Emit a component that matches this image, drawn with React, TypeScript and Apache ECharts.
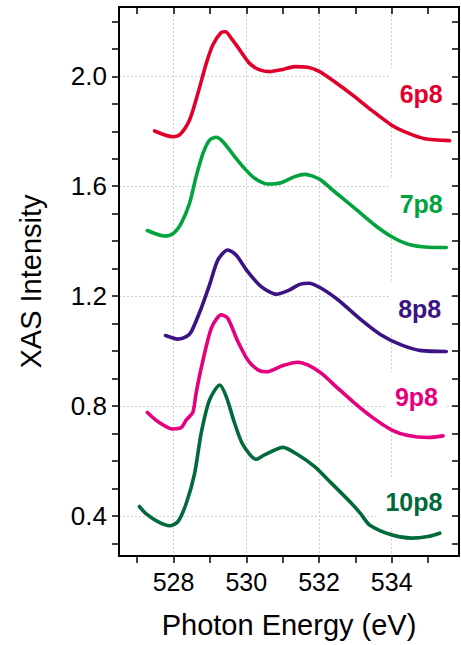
import React, { useEffect, useRef } from 'react';
import * as echarts from 'echarts';

// ---- data ----
const energy6p8 = [527.48, 527.98, 528.17, 528.44, 528.67, 528.90, 529.08, 529.31, 529.43, 529.59, 529.82, 530.09, 530.37, 530.64, 531.01, 531.33, 531.69, 532.02, 532.43, 532.98, 533.44, 533.99, 534.45, 534.91, 535.59];
const xas6p8 = [1.801, 1.780, 1.787, 1.841, 1.938, 2.047, 2.114, 2.159, 2.162, 2.138, 2.096, 2.047, 2.023, 2.017, 2.025, 2.035, 2.033, 2.017, 1.980, 1.926, 1.877, 1.823, 1.793, 1.773, 1.766];

const energy7p8 = [527.28, 527.75, 527.98, 528.21, 528.44, 528.62, 528.81, 528.99, 529.17, 529.36, 529.68, 529.95, 530.23, 530.59, 530.96, 531.33, 531.62, 532.02, 532.43, 532.98, 533.53, 533.99, 534.45, 535.00, 535.50];
const xas7p8 = [1.439, 1.419, 1.427, 1.465, 1.538, 1.635, 1.720, 1.768, 1.778, 1.762, 1.708, 1.665, 1.629, 1.608, 1.613, 1.635, 1.643, 1.625, 1.580, 1.520, 1.459, 1.417, 1.389, 1.378, 1.377];

const energy8p8 = [527.78, 528.12, 528.35, 528.49, 528.76, 528.99, 529.22, 529.49, 529.72, 530.04, 530.41, 530.83, 531.19, 531.47, 531.72, 532.06, 532.52, 533.16, 533.71, 534.26, 534.81, 535.50];
const xas8p8 = [1.057, 1.044, 1.053, 1.071, 1.156, 1.241, 1.332, 1.368, 1.350, 1.289, 1.235, 1.207, 1.223, 1.243, 1.247, 1.229, 1.187, 1.114, 1.059, 1.023, 1.002, 0.999];

const energy9p8 = [527.28, 527.57, 527.98, 528.21, 528.35, 528.53, 528.62, 528.76, 529.04, 529.31, 529.49, 529.77, 530.04, 530.32, 530.55, 531.01, 531.42, 531.69, 532.06, 532.52, 532.98, 533.44, 533.99, 534.45, 535.00, 535.41];
const xas9p8 = [0.777, 0.744, 0.717, 0.722, 0.750, 0.777, 0.847, 0.938, 1.084, 1.132, 1.120, 1.035, 0.968, 0.932, 0.925, 0.948, 0.960, 0.950, 0.920, 0.865, 0.811, 0.762, 0.714, 0.693, 0.686, 0.692];

const energy10p8 = [527.06, 527.25, 527.57, 527.89, 528.12, 528.35, 528.58, 528.76, 528.99, 529.27, 529.45, 529.68, 529.91, 530.27, 530.50, 531.01, 531.42, 531.88, 532.34, 532.89, 533.15, 533.39, 533.99, 534.54, 535.00, 535.32];
const xas10p8 = [0.435, 0.408, 0.380, 0.365, 0.380, 0.447, 0.556, 0.702, 0.823, 0.877, 0.835, 0.738, 0.659, 0.607, 0.623, 0.650, 0.623, 0.580, 0.520, 0.447, 0.408, 0.368, 0.332, 0.320, 0.326, 0.338];

const sampleNames = ['6p8', '7p8', '8p8', '9p8', '10p8'];
const sampleEnergies = [energy6p8, energy7p8, energy8p8, energy9p8, energy10p8];
const sampleXas = [xas6p8, xas7p8, xas8p8, xas9p8, xas10p8];
// label anchors (data coordinates)
const labelEnergy = [534.81, 534.81, 534.77, 534.68, 534.61];
const labelXas = [1.936, 1.536, 1.154, 0.832, 0.450];

const xTickValues = [527, 528, 529, 530, 531, 532, 533, 534, 535];
const xLabelValues = [528, 530, 532, 534];
const yTickValues = [0.3, 0.4, 0.5, 0.6, 0.7, 0.8, 0.9, 1.0, 1.1, 1.2, 1.3, 1.4, 1.5, 1.6, 1.7, 1.8, 1.9, 2.0, 2.1, 2.2];
const yLabelValues = [0.4, 0.8, 1.2, 1.6, 2.0];

const X_MIN = 526.5;
const X_MAX = 535.85;
const Y_MIN = 0.255;
const Y_MAX = 2.252;

const colors = ['#E2002B', '#00A33C', '#3B1383', '#E4007E', '#006A3A'];
const FONT = 'Liberation Sans, Arial, Helvetica, sans-serif';

export default function App() {
  const ref = useRef<HTMLDivElement>(null);

  useEffect(() => {
    if (!ref.current) return;
    const chart = echarts.init(ref.current, null, { renderer: 'svg' });

    const frameLine = { show: true, onZero: false, lineStyle: { color: '#000', width: 2 } };
    const tickStyle = { color: '#000', width: 1.5 };

    const lineSeries = sampleNames.map((name, i) => ({
      type: 'line',
      name,
      xAxisIndex: 0,
      yAxisIndex: 0,
      data: sampleEnergies[i].map((e, k) => [e, sampleXas[i][k]]),
      showSymbol: false,
      symbol: 'none',
      smooth: 0.25,
      z: 3,
      lineStyle: { color: colors[i], width: 3.6, cap: 'round', join: 'round' },
      itemStyle: { color: colors[i] },
    }));

    const labelSeries = {
      type: 'scatter',
      xAxisIndex: 0,
      yAxisIndex: 0,
      z: 2,
      silent: true,
      symbolSize: 0,
      itemStyle: { color: '#ffffff', opacity: 1 },
      label: {
        show: true,
        position: 'inside',
        formatter: '{b}',
        fontSize: 25,
        fontWeight: 'bold',
        fontFamily: FONT,
        opacity: 1,
        backgroundColor: '#fff',
        padding: [12, 9, 14, 9],
      },
      emphasis: { disabled: true },
      data: sampleNames.map((name, i) => ({
        name,
        value: [labelEnergy[i], labelXas[i]],
        label: { color: colors[i], opacity: 1 },
      })),
    };

    chart.setOption({
      animation: false,
      backgroundColor: '#fff',
      grid: { left: 119, right: 2, top: 7, bottom: 89, outerBoundsMode: 'none', containLabel: false },
      xAxis: [
        {
          type: 'value', position: 'bottom', min: X_MIN, max: X_MAX,
          axisLine: frameLine,
          axisTick: { show: true, inside: false, length: 7, lineStyle: tickStyle, customValues: xTickValues },
          axisLabel: { show: true, customValues: xLabelValues, formatter: (v: number) => String(v), fontSize: 25, color: '#000', fontFamily: FONT, margin: 13 },
          splitLine: { show: false },
          name: 'Photon Energy (eV)', nameLocation: 'middle', nameGap: 54, nameMoveOverlap: false,
          nameTextStyle: { fontSize: 29, color: '#000', fontFamily: FONT },
        },
        {
          type: 'value', position: 'top', min: X_MIN, max: X_MAX,
          axisLine: frameLine,
          axisTick: { show: true, inside: true, length: 7, lineStyle: tickStyle, customValues: xTickValues },
          axisLabel: { show: false },
          splitLine: { show: false },
        },
        {
          type: 'value', position: 'bottom', min: X_MIN, max: X_MAX, z: 0,
          axisLine: { show: false },
          axisTick: { show: false, customValues: xLabelValues },
          axisLabel: { show: false, customValues: xLabelValues },
          splitLine: { show: true, lineStyle: { color: '#cfcfcf', width: 1, type: [2, 2] } },
        },
      ],
      yAxis: [
        {
          type: 'value', position: 'left', min: Y_MIN, max: Y_MAX,
          axisLine: frameLine,
          axisTick: { show: true, inside: false, length: 7, lineStyle: tickStyle, customValues: yTickValues },
          axisLabel: { show: true, customValues: yLabelValues, formatter: (v: number) => v.toFixed(1), fontSize: 26, color: '#000', fontFamily: FONT, margin: 12 },
          splitLine: { show: false },
          name: 'XAS Intensity', nameLocation: 'middle', nameGap: 74, nameMoveOverlap: false,
          nameTextStyle: { fontSize: 29, color: '#000', fontFamily: FONT },
        },
        {
          type: 'value', position: 'right', min: Y_MIN, max: Y_MAX,
          axisLine: frameLine,
          axisTick: { show: true, inside: true, length: 7, lineStyle: tickStyle, customValues: yTickValues },
          axisLabel: { show: false },
          splitLine: { show: false },
        },
        {
          type: 'value', position: 'left', min: Y_MIN, max: Y_MAX, z: 0,
          axisLine: { show: false },
          axisTick: { show: false, customValues: yLabelValues },
          axisLabel: { show: false, customValues: yLabelValues },
          splitLine: { show: true, lineStyle: { color: '#cfcfcf', width: 1, type: [2, 2] } },
        },
      ],
      series: [labelSeries, ...lineSeries],
    });

    return () => chart.dispose();
  }, []);

  return <div ref={ref} style={{ position: 'absolute', left: 0, top: 0, width: 461, height: 645 }} />;
}
